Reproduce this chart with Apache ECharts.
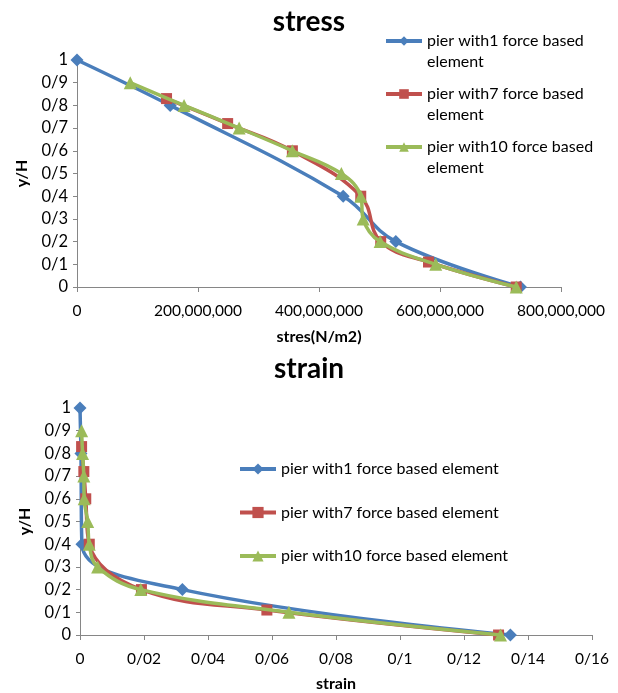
<!DOCTYPE html>
<html>
<head>
<meta charset="utf-8">
<title>stress / strain</title>
<script src="https://cdn.jsdelivr.net/npm/echarts@6/dist/echarts.min.js"></script>
<style>
  html, body { margin: 0; padding: 0; background: #fff; }
  #chart { width: 618px; height: 693px; }
</style>
</head>
<body>
<div id="chart"></div>
<script>
// Series names
const names = [
  'pier with1 force based element',
  'pier with7 force based element',
  'pier with10 force based element'
];

// Height ratios (y/H) for each model
const yH1 = [1, 0.8, 0.4, 0.2, 0];
const yH7 = [0.83, 0.72, 0.6, 0.4, 0.2, 0.11, 0];
const yH10 = [0.9, 0.8, 0.7, 0.6, 0.5, 0.4, 0.3, 0.2, 0.1, 0];

// Stress (N/m2)
const stress1 = [0, 154e6, 440e6, 527e6, 733e6];
const stress7 = [148e6, 249e6, 356e6, 469e6, 502e6, 581e6, 726e6];
const stress10 = [88e6, 177e6, 268e6, 356e6, 437e6, 469e6, 473e6, 501e6, 593e6, 726e6];

// Strain
const strain1 = [0, 0.0003, 0.0006, 0.032, 0.1345];
const strain7 = [0.0005, 0.0012, 0.0018, 0.0029, 0.0192, 0.0584, 0.1308];
const strain10 = [0.0005, 0.0008, 0.0012, 0.0013, 0.0024, 0.0029, 0.0055, 0.019, 0.0653, 0.1314];

const colors = ['#4A7EBB', '#C0504D', '#9BBB59'];
const symbols = ['path://M0,-1L1,0L0,1L-1,0Z', 'rect', 'triangle'];
const symbolSizes = [13, 11, 13];
const FONT = 'Lato';

function pairs(xs, ys) {
  return xs.map((x, i) => [x, ys[i]]);
}

function slashNum(v, digits) {
  return String(parseFloat(v.toFixed(digits))).replace('.', '/');
}

function lineSeries(idx, gridIdx, xs, ys) {
  return {
    name: names[idx],
    type: 'line',
    xAxisIndex: gridIdx,
    yAxisIndex: gridIdx,
    data: pairs(xs, ys),
    smooth: 0.4,
    symbol: symbols[idx],
    symbolSize: symbolSizes[idx],
    showAllSymbol: true,
    lineStyle: { color: colors[idx], width: 3.5 },
    itemStyle: { color: colors[idx] },
    emphasis: { disabled: true },
    z: 2 + idx
  };
}

const axisLineStyle = { lineStyle: { color: '#868686', width: 1 } };
const xLabelStyle = { color: '#000', fontFamily: FONT, fontSize: 15.5 };
const yLabelStyle = { color: '#000', fontFamily: FONT, fontSize: 16.5 };
const nameStyle = { color: '#000', fontFamily: FONT, fontSize: 16, fontWeight: 'bold' };
const legendText = { color: '#000', fontFamily: FONT, fontSize: 16 };

function yAxis(gridIdx) {
  return {
    type: 'value',
    gridIndex: gridIdx,
    min: 0, max: 1, interval: 0.1,
    name: 'y/H',
    nameLocation: 'middle',
    nameGap: 47,
    nameTextStyle: nameStyle,
    axisLine: Object.assign({ show: true }, axisLineStyle),
    axisTick: { show: true, length: 4, lineStyle: { color: '#868686' } },
    splitLine: { show: false },
    axisLabel: Object.assign({ margin: 9, formatter: v => slashNum(v, 1) }, yLabelStyle)
  };
}

// Top legend: wrapped names, icon aligned with first line
function topLegend(idx, top) {
  return {
    data: [names[idx]],
    left: 384,
    top: top,
    padding: 0,
    itemWidth: 36,
    itemHeight: 12,
    selectedMode: false,
    lineStyle: { width: 4 },
    formatter: n => '\n' + n.replace(' element', '') + '\nelement',
    textStyle: Object.assign({ lineHeight: 21 }, legendText)
  };
}

function bottomLegend(idx, top) {
  return {
    data: [names[idx]],
    left: 238,
    top: top,
    padding: 0,
    itemWidth: 36,
    itemHeight: 14,
    selectedMode: false,
    lineStyle: { width: 4 },
    textStyle: Object.assign({ lineHeight: 14 }, legendText)
  };
}

const chart = echarts.init(document.getElementById('chart'), null, { renderer: 'canvas' });

chart.setOption({
  animation: false,
  backgroundColor: '#fff',
  title: [
    { text: 'stress', left: 'center', top: 3,
      textStyle: { fontFamily: FONT, fontSize: 28, fontWeight: 'bold', color: '#000' } },
    { text: 'strain', left: 'center', top: 350,
      textStyle: { fontFamily: FONT, fontSize: 28, fontWeight: 'bold', color: '#000' } }
  ],
  legend: [
    topLegend(0, 9.5), topLegend(1, 62.5), topLegend(2, 115.5),
    bottomLegend(0, 461), bottomLegend(1, 504.5), bottomLegend(2, 548)
  ],
  grid: [
    { left: 77, right: 57, top: 60, bottom: 406 },
    { left: 80, right: 26, top: 408, bottom: 57 }
  ],
  xAxis: [
    {
      type: 'value', gridIndex: 0,
      min: 0, max: 800e6, interval: 200e6,
      name: 'stres(N/m2)', nameLocation: 'middle', nameGap: 42,
      nameTextStyle: nameStyle,
      axisLine: Object.assign({ show: true }, axisLineStyle),
      axisTick: { show: true, length: 5, lineStyle: { color: '#868686' } },
      splitLine: { show: false },
      axisLabel: Object.assign({ margin: 16, formatter: v => v.toLocaleString('en-US') }, xLabelStyle)
    },
    {
      type: 'value', gridIndex: 1,
      min: 0, max: 0.16, interval: 0.02,
      name: 'strain', nameLocation: 'middle', nameGap: 41,
      nameTextStyle: nameStyle,
      axisLine: Object.assign({ show: true }, axisLineStyle),
      axisTick: { show: true, length: 5, lineStyle: { color: '#868686' } },
      splitLine: { show: false },
      axisLabel: Object.assign({ margin: 16, formatter: v => slashNum(v, 2) }, xLabelStyle)
    }
  ],
  yAxis: [yAxis(0), yAxis(1)],
  series: [
    lineSeries(0, 0, stress1, yH1),
    lineSeries(1, 0, stress7, yH7),
    lineSeries(2, 0, stress10, yH10),
    lineSeries(0, 1, strain1, yH1),
    lineSeries(1, 1, strain7, yH7),
    lineSeries(2, 1, strain10, yH10)
  ]
});
</script>
</body>
</html>
